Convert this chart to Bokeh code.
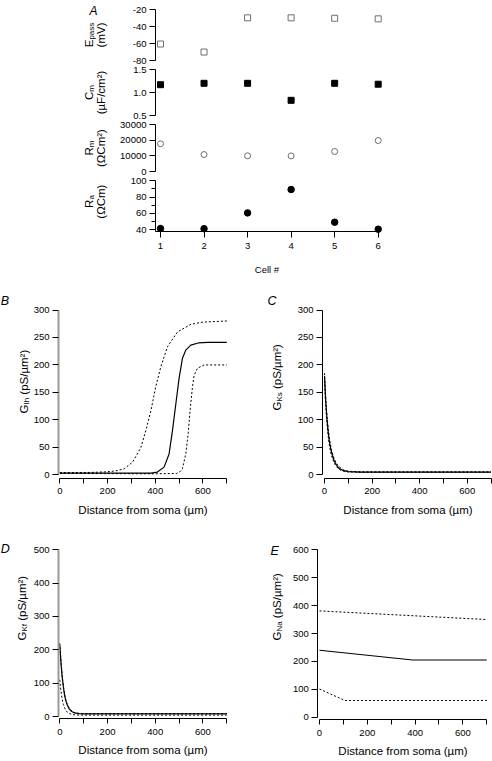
import math
from bokeh.plotting import figure
from bokeh.models import FixedTicker, NumeralTickFormatter, Range1d, LinearAxis
from bokeh.core.properties import value
from bokeh.embed import file_html
from bokeh.resources import INLINE

FONT = "Liberation Sans"

# ---------------- Panel A: passive parameters per cell ----------------
cells = [1, 2, 3, 4, 5, 6]
e_pass = [-60.5, -70, -29.5, -29.5, -30, -30.7]
c_m = [1.17, 1.20, 1.20, 0.83, 1.20, 1.18]
r_m = [17800, 10900, 10100, 10000, 12850, 19900]
r_a = [41.2, 41, 60.5, 89.3, 49, 40.4]

e_pass_ticks = [-80, -60, -40, -20]
c_m_ticks = [0.5, 1.0, 1.5]
r_m_ticks = [0, 10000, 20000, 30000]
r_a_ticks = [40, 60, 80, 100]
r_a_minor = [50, 70, 90]

# ---------------- Panels B-E: conductance vs distance ----------------
dist_ticks = [0, 200, 400, 600]
dist_minor = [100, 300, 500, 700]

# B: G_Ih
ih_mid_x = [0, 100, 200, 300, 350, 382, 409, 437, 458, 472, 486, 500, 514, 528, 549, 580, 620, 700]
ih_mid_y = [3, 3, 3, 3, 3, 3.2, 5, 14, 38, 80, 128, 176, 212, 227, 236, 240, 241, 241]
ih_hi_x = [0, 130, 200, 240, 270, 305, 340, 361, 382, 402, 423, 451, 493, 550, 600, 700]
ih_hi_y = [4, 4.3, 5.5, 7.5, 11, 23, 50, 81, 117, 160, 196, 233, 260, 274, 278, 280]
ih_lo_x = [0, 200, 400, 490, 505, 514, 528, 538, 546, 556, 563, 577, 605, 700]
ih_lo_y = [2.5, 2.2, 1.8, 2.5, 6, 11, 38, 75, 117, 160, 181, 194, 200, 200]

# C: G_Ks
ks_x = [0, 5, 10, 15, 20, 25, 30, 40, 50, 60, 80, 100, 150, 700]
ks_mid = [180, 135, 104, 80, 62, 50, 40, 26, 18, 12, 7.5, 5.8, 5, 5]
ks_hi = [185, 142, 110, 86, 68, 55, 44, 30, 21, 15, 9, 6.5, 5.2, 5.2]
ks_lo = [172, 126, 96, 72, 55, 43, 34, 22, 15, 10, 6.5, 5.3, 4.9, 4.9]

# D: G_Kf
kf_x = [0, 5, 10, 15, 20, 25, 30, 40, 50, 60, 80, 100, 150, 700]
kf_mid = [215, 160, 118, 88, 64, 48, 37, 22, 15, 11, 8.5, 8, 8, 8]
kf_hi = [220, 165, 122, 91, 67, 50, 39, 24, 16, 12, 9.5, 9, 9, 9]
kf_lo = [110, 75, 52, 36, 26, 19, 14, 9, 6.5, 5.2, 4.5, 4.3, 4.2, 4.2]

# E: G_Na
na_mid_x = [0, 390, 700]
na_mid = [240, 205, 205]
na_hi_x = [0, 700]
na_hi = [381, 350]
na_lo_x = [0, 106, 700]
na_lo = [101, 60, 60]

# ---------------- page geometry (pixels) ----------------
W, H = 492, 760


def xr_px(a, b):
    """x range so that pixel x = a + b*u over the full-width frame"""
    return Range1d((0 - a) / b, (W - a) / b)


def yr_px(c, d):
    """y range so that pixel y (from top) = c - d*v over the full-height frame"""
    return Range1d((c - H) / d, c / d)


p = figure(width=W, height=H, x_range=Range1d(0, W), y_range=Range1d(0, H),
           output_backend="svg", toolbar_location=None,
           min_border_left=0, min_border_right=0, min_border_top=0, min_border_bottom=0,
           x_axis_location=None, y_axis_location=None)
p.outline_line_color = None
p.grid.visible = False
p.background_fill_color = "white"
p.border_fill_color = "white"

p.extra_x_ranges = {
    "xA": xr_px(116.46, 43.54),
    "xB": xr_px(59.3, 0.2386),
    "xC": xr_px(324.0, 0.2379),
    "xD": xr_px(59.3, 0.2386),
    "xE": xr_px(319.0, 0.2389),
}
p.extra_y_ranges = {
    "yEp": yr_px(-7.6, 0.845),
    "yCm": yr_px(138.0, 46.0),
    "yRm": yr_px(171.0, 46.7 / 30000),
    "yRa": yr_px(261.5, 0.8117),
    "yB": yr_px(474.3, 0.5493),
    "yC": yr_px(474.3, 0.5493),
    "yD": yr_px(716.0, 0.3334),
    "yE": yr_px(716.7, 0.279),
}


def style_axis(ax, tick_out=6, minor_out=4, standoff=3, color="black", lw=1):
    ax.major_label_text_font = FONT
    ax.major_label_text_font_size = "9.5px"
    ax.major_label_text_color = "black"
    ax.axis_line_color = color
    ax.axis_line_width = lw
    ax.major_tick_line_color = "black"
    ax.minor_tick_line_color = "black"
    ax.major_tick_in = 0
    ax.minor_tick_in = 0
    ax.major_tick_out = tick_out
    ax.minor_tick_out = minor_out
    ax.major_label_standoff = standoff
    ax.axis_label_text_font = FONT
    ax.axis_label_text_font_style = "normal"
    ax.axis_label_text_color = "black"
    return ax


def yaxis(xn, yn, loc, ticks, minor, bounds, fmt="0", **kw):
    ax = LinearAxis(x_range_name=xn, y_range_name=yn, fixed_location=loc,
                    ticker=FixedTicker(ticks=ticks, minor_ticks=minor),
                    formatter=NumeralTickFormatter(format=fmt), bounds=bounds)
    style_axis(ax, **kw)
    p.add_layout(ax, "left")
    return ax


def xaxis(xn, yn, loc, ticks, minor, bounds, label, label_size, **kw):
    ax = LinearAxis(x_range_name=xn, y_range_name=yn, fixed_location=loc,
                    ticker=FixedTicker(ticks=ticks, minor_ticks=minor), bounds=bounds,
                    axis_label=label)
    style_axis(ax, **kw)
    ax.axis_label_text_font_size = label_size
    p.add_layout(ax, "below")
    return ax


# ---------------- Panel A ----------------
A_LOC = 0.885   # cell-axis value of the shared vertical axes
p.scatter(cells, e_pass, x_range_name="xA", y_range_name="yEp", marker="square", size=6,
          line_color="#6e6e6e", fill_color="white", line_width=1)
p.scatter(cells, c_m, x_range_name="xA", y_range_name="yCm", marker="square", size=6,
          line_color="black", fill_color="black")
p.scatter(cells, r_m, x_range_name="xA", y_range_name="yRm", marker="circle", size=6,
          line_color="#6e6e6e", fill_color="white", line_width=1)
p.scatter(cells, r_a, x_range_name="xA", y_range_name="yRa", marker="circle", size=6.5,
          line_color="black", fill_color="black")

yaxis("xA", "yEp", A_LOC, e_pass_ticks, [], (-80, -20))
yaxis("xA", "yCm", A_LOC, c_m_ticks, [], (0.5, 1.5), fmt="0.0")
yaxis("xA", "yRm", A_LOC, r_m_ticks, [], (0, 30000))
yaxis("xA", "yRa", A_LOC, r_a_ticks, r_a_minor, (37.2, 100))
axA = xaxis("xA", "yRa", 37.2, cells, [], (A_LOC, 6), "Cell #", "9.5px",
            tick_out=6, minor_out=0, standoff=5)
axA.axis_label_standoff = 12

# ---------------- Panels B-E ----------------
LINE = dict(line_color="black", line_width=1.2)
DASH = dict(line_color="black", line_width=1, line_dash="2 2")


def panel(xn, yn, ymax, ystep, yloc, xloc, gray, xs_mid, y_mid, xs_hi, y_hi, xs_lo, y_lo):
    p.line(xs_hi, y_hi, x_range_name=xn, y_range_name=yn, **DASH)
    p.line(xs_lo, y_lo, x_range_name=xn, y_range_name=yn, **DASH)
    p.line(xs_mid, y_mid, x_range_name=xn, y_range_name=yn, **LINE)
    if gray:
        yaxis(xn, yn, yloc, list(range(0, ymax + 1, ystep)), [], (0, ymax), color="#9a9a9a", lw=2)
    else:
        yaxis(xn, yn, yloc, list(range(0, ymax + 1, ystep)), [], (0, ymax))
    ax = xaxis(xn, yn, xloc, dist_ticks, dist_minor, (0, 700), "Distance from soma (µm)",
               "11.5px", tick_out=5, minor_out=5, standoff=5)
    ax.axis_label_standoff = 6


panel("xB", "yB", 300, 50, -5.4, -6.2, True, ih_mid_x, ih_mid_y, ih_hi_x, ih_hi_y, ih_lo_x, ih_lo_y)
panel("xC", "yC", 300, 50, -8.4, -6.2, False, ks_x, ks_mid, ks_x, ks_hi, ks_x, ks_lo)
panel("xD", "yD", 500, 100, -5.4, -6.9, True, kf_x, kf_mid, kf_x, kf_hi, kf_x, kf_lo)
panel("xE", "yE", 600, 100, -7.1, -9.3, False, na_mid_x, na_mid, na_hi_x, na_hi, na_lo_x, na_lo)

# ---------------- texts (pixel positions on the page) ----------------
CW = {'G': .778, 'I': .278, 'h': .556, 'K': .667, 's': .5, 'f': .278, 'N': .722,
      'a': .556, ' ': .278, '(': .333, ')': .333, 'p': .556, 'S': .667, '/': .278,
      'µ': .576, 'm': .833, '²': .333, 'E': .667, 'C': .722, 'R': .722, 'V': .667,
      'F': .611, 'c': .5, 'Ω': .768}


def tw(text, size):
    return sum(CW.get(ch, .556) for ch in text) * size


def put(sx, sy, text, size, angle=0.0, style="normal"):
    p.text(x=[sx], y=[H - sy], text=[text], angle=angle,
           text_font=value(FONT), text_font_size=value(f"{size}px"),
           text_font_style=style, text_align="left", text_baseline="alphabetic",
           text_color="black")


def vlabel(sx, sy_start, segs):
    cur = sy_start
    for text, size, shift in segs:
        if text != " ":
            put(sx + shift, cur, text, size, angle=math.pi / 2)
        cur -= tw(text, size)


def vlabel_centered(sx, sy_center, segs):
    total = sum(tw(t, s) for t, s, _ in segs)
    vlabel(sx, sy_center + total / 2, segs)


put(89, 10, "A", 12, style="italic")
put(0.3, 300.5, "B", 12.5, style="italic")
put(267, 300.5, "C", 12.5, style="italic")
put(0.3, 548, "D", 12.5, style="italic")
put(270, 550, "E", 12.5, style="italic")

L1, L2 = 88.3, 100.0
for cy, main, sub, second in ((34.5, "E", "pass", "(mV)"),
                              (92.0, "C", "m", "(µF/cm²)"),
                              (147.5, "R", "m", "(ΩCm²)"),
                              (201.0, "R", "a", "(ΩCm)")):
    vlabel_centered(L1, cy, [(main, 11.5, 0), (sub, 8, 2.5)])
    vlabel_centered(L2, cy, [(second, 11.5, 0)])


def ylab_segs(sub):
    return [("G", 11.5, 0), (sub, 8, 2.5), (" ", 11.5, 0), ("(pS/µm²)", 11.5, 0)]


vlabel(23.0, 413, ylab_segs("Ih"))
vlabel(276.7, 410, ylab_segs("Ks"))
vlabel(21.0, 640, ylab_segs("Kf"))
vlabel(276.7, 640, ylab_segs("Na"))

open("out.html", "w").write(file_html(p, INLINE))
